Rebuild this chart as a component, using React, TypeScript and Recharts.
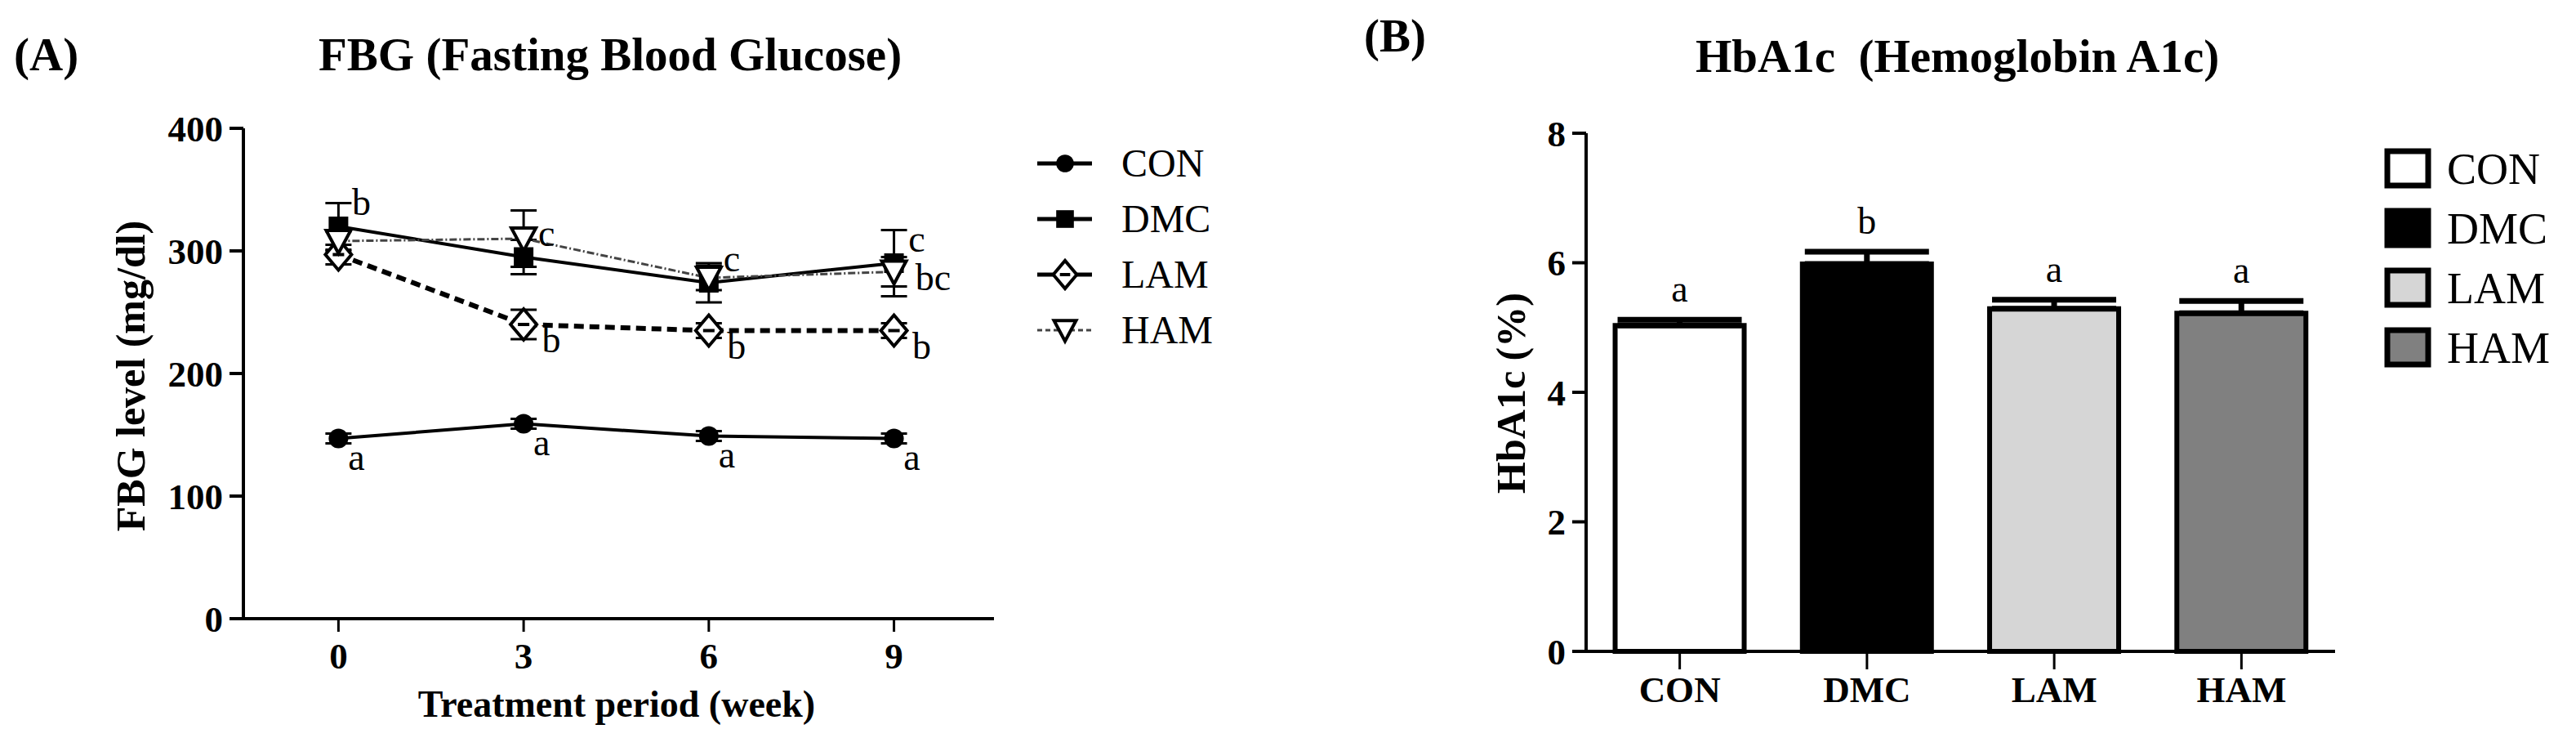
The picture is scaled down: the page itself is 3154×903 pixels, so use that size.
import React from 'react';
import { LineChart, Line, XAxis, YAxis, ErrorBar, Legend, LabelList, BarChart, Bar, Cell } from 'recharts';

// panel A: fasting blood glucose over the treatment period
const weeks = [0, 3, 6, 9];
const conValues = [147, 159, 149, 147];
const dmcValues = [320, 295, 274, 290];
const lamValues = [297, 240, 235, 235];
const hamValues = [308, 310, 278, 283];
const conErrors = [4, 4, 4, 4];
const dmcErrors = [19, 14, 16, 27];
const lamErrors = [8, 12, 6, 6];
const hamErrors = [8, 23, 10, 12];
const conLetters = ['a', 'a', 'a', 'a'];
const dmcLetters = ['b', 'c', 'c', 'c'];
const lamLetters = ['', 'b', 'b', 'b'];
const hamLetters = ['', '', '', 'bc'];
const fbgTicks = [0, 100, 200, 300, 400];

// panel B: HbA1c per group
const groups = ['CON', 'DMC', 'LAM', 'HAM'];
const hba1cValues = [5.03, 5.98, 5.29, 5.22];
const hba1cErrors = [0.09, 0.19, 0.14, 0.19];
const hba1cLetters = ['a', 'b', 'a', 'a'];
const hba1cTicks = [0, 2, 4, 6, 8];
const groupFills = ['#ffffff', '#000000', '#d6d6d6', '#808080'];

const SERIF = "'Liberation Serif', 'Times New Roman', serif";

type Shape = 'circle' | 'square' | 'diamond' | 'triangle';

const fbgSeries = [
  { key: 'CON', values: conValues, errors: conErrors, letters: conLetters, shape: 'circle' as Shape, stroke: '#000', width: 4, dash: undefined as string | undefined, dx: 22, dy: 38 },
  { key: 'DMC', values: dmcValues, errors: dmcErrors, letters: dmcLetters, shape: 'square' as Shape, stroke: '#000', width: 4, dash: undefined, dx: 28, dy: -14 },
  { key: 'LAM', values: lamValues, errors: lamErrors, letters: lamLetters, shape: 'diamond' as Shape, stroke: '#000', width: 6, dash: '12 7', dx: 34, dy: 34 },
  { key: 'HAM', values: hamValues, errors: hamErrors, letters: hamLetters, shape: 'triangle' as Shape, stroke: '#444', width: 3, dash: '9 3 2 3', dx: 48, dy: 22 },
];

const fbgData = weeks.map((w, i) => {
  const row: Record<string, any> = { week: w };
  fbgSeries.forEach((s) => {
    row[s.key] = s.values[i];
    row[s.key + 'Err'] = s.errors[i];
    row[s.key + 'Letter'] = s.letters[i];
  });
  return row;
});

const hba1cData = groups.map((g, i) => ({
  group: g,
  value: hba1cValues[i],
  err: [0, hba1cErrors[i]],
  letter: hba1cLetters[i],
}));

function Marker({ shape, cx, cy, scale = 1 }: { shape: Shape; cx: number; cy: number; scale?: number }) {
  const k = scale;
  if (shape === 'circle') return <circle cx={cx} cy={cy} r={12 * k} fill="#000" />;
  if (shape === 'square') return <rect x={cx - 12 * k} y={cy - 12 * k} width={24 * k} height={24 * k} fill="#000" />;
  if (shape === 'diamond')
    return (
      <g>
        <path d={`M${cx},${cy - 19 * k} L${cx + 16 * k},${cy} L${cx},${cy + 19 * k} L${cx - 16 * k},${cy} Z`} fill="#fff" stroke="#000" strokeWidth={4} />
        <line x1={cx - 7 * k} x2={cx + 7 * k} y1={cy} y2={cy} stroke="#000" strokeWidth={4} />
      </g>
    );
  return <path d={`M${cx - 15 * k},${cy - 13 * k} L${cx + 15 * k},${cy - 13 * k} L${cx},${cy + 15 * k} Z`} fill="#fff" stroke="#000" strokeWidth={4} />;
}

function FbgLegend() {
  return (
    <div>
      {fbgSeries.map((s) => (
        <div key={s.key} style={{ display: 'flex', alignItems: 'center', height: 68 }}>
          <svg width={108} height={68}>
            <line x1={5} x2={72} y1={34} y2={34} stroke={s.stroke} strokeWidth={s.key === 'HAM' ? 3 : 5} strokeDasharray={s.key === 'HAM' ? '6 4' : undefined} />
            <Marker shape={s.shape} cx={39} cy={34} scale={0.9} />
          </svg>
          <span style={{ fontFamily: SERIF, fontSize: 48, color: '#000', lineHeight: 1 }}>{s.key}</span>
        </div>
      ))}
    </div>
  );
}

function Hba1cLegend() {
  return (
    <div>
      {groups.map((g, i) => (
        <div key={g} style={{ display: 'flex', alignItems: 'center', height: 73 }}>
          <svg width={78} height={73}>
            <rect x={5} y={15} width={50} height={42} fill={groupFills[i]} stroke="#000" strokeWidth={7} />
          </svg>
          <span style={{ fontFamily: SERIF, fontSize: 54, color: '#000', lineHeight: 1 }}>{g}</span>
        </div>
      ))}
    </div>
  );
}

const tickFont = { fontFamily: SERIF, fontSize: 45, fontWeight: 'bold', fill: '#000' };
const axisStroke = { stroke: '#000', strokeWidth: 4 };

function pointOf(p: any) {
  const x = p.viewBox && p.viewBox.x != null ? p.viewBox.x : p.x;
  const y = p.viewBox && p.viewBox.y != null ? p.viewBox.y : p.y;
  return { x, y };
}

export default function App() {
  return (
    <div style={{ position: 'absolute', left: 0, top: 0, width: 3154, height: 903, background: '#fff' }}>
      <div style={{ position: 'absolute', left: 0, top: 0 }}>
        <LineChart width={1600} height={903} data={fbgData} margin={{ top: 157, right: 383, bottom: 0, left: 178 }}>
          <XAxis
            dataKey="week"
            type="number"
            domain={[-1.54, 10.62]}
            ticks={weeks}
            height={146}
            tick={tickFont}
            tickSize={16}
            tickMargin={13}
            axisLine={axisStroke}
            tickLine={{ stroke: '#000', strokeWidth: 3 }}
            allowDataOverflow
          />
          <YAxis
            type="number"
            domain={[0, 400]}
            ticks={fbgTicks}
            width={120}
            tick={tickFont}
            tickSize={17}
            tickMargin={8}
            axisLine={axisStroke}
            tickLine={axisStroke}
          />
          {fbgSeries.map((s) => (
            <Line
              key={s.key}
              dataKey={s.key}
              name={s.key}
              type="linear"
              stroke={s.stroke}
              strokeWidth={s.width}
              strokeDasharray={s.dash}
              isAnimationActive={false}
              dot={(p: any) => <Marker key={`${s.key}-${p.index}`} shape={s.shape} cx={p.cx} cy={p.cy} />}
              activeDot={false}
            >
              <ErrorBar dataKey={s.key + 'Err'} width={16} strokeWidth={3} stroke="#000" direction="y" />
              <LabelList
                dataKey={s.key + 'Letter'}
                content={(p: any) => {
                  const { x, y } = pointOf(p);
                  if (!p.value) return null;
                  return (
                    <text x={x + s.dx} y={y + s.dy} textAnchor="middle" fontFamily={SERIF} fontSize={46} fill="#000">
                      {p.value}
                    </text>
                  );
                }}
              />
            </Line>
          ))}
          <Legend
            layout="vertical"
            align="center"
            verticalAlign="middle"
            wrapperStyle={{ left: 1265, top: 166, width: 320 }}
            content={() => <FbgLegend />}
          />
        </LineChart>
      </div>

      <div style={{ position: 'absolute', left: 1600, top: 0 }}>
        <BarChart width={1554} height={903} data={hba1cData} margin={{ top: 163, right: 295, bottom: 0, left: 222 }} barCategoryGap="15.5%">
          <XAxis
            dataKey="group"
            height={106}
            tick={tickFont}
            tickSize={22}
            tickMargin={8}
            axisLine={axisStroke}
            tickLine={{ stroke: '#000', strokeWidth: 3 }}
          />
          <YAxis
            type="number"
            domain={[0, 8]}
            ticks={hba1cTicks}
            width={120}
            tick={tickFont}
            tickSize={17}
            tickMargin={8}
            axisLine={axisStroke}
            tickLine={axisStroke}
          />
          <Bar dataKey="value" stroke="#000" strokeWidth={6} isAnimationActive={false}>
            {hba1cData.map((d, i) => (
              <Cell key={d.group} fill={groupFills[i]} />
            ))}
            <ErrorBar dataKey="err" width={76} strokeWidth={7} stroke="#000" direction="y" />
            <LabelList
              dataKey="letter"
              content={(p: any) => {
                const vb = p.viewBox || p;
                const i = p.index;
                const perUnit = vb.height / hba1cValues[i];
                const errTop = vb.y - hba1cErrors[i] * perUnit;
                return (
                  <text x={vb.x + vb.width / 2} y={errTop - 22} textAnchor="middle" fontFamily={SERIF} fontSize={46} fill="#000">
                    {p.value}
                  </text>
                );
              }}
            />
          </Bar>
          <Legend
            layout="vertical"
            align="center"
            verticalAlign="middle"
            wrapperStyle={{ left: 1318, top: 170, width: 230 }}
            content={() => <Hba1cLegend />}
          />
        </BarChart>
      </div>

      <svg width={3154} height={903} style={{ position: 'absolute', left: 0, top: 0, pointerEvents: 'none' }}>
        <g fontFamily={SERIF} fontWeight="bold" fill="#000">
          <text x={17} y={86} fontSize={57}>(A)</text>
          <text x={390} y={86} fontSize={57}>FBG (Fasting Blood Glucose)</text>
          <text x={177} y={460} fontSize={50} textAnchor="middle" transform="rotate(-90 177 460)">FBG level (mg/dl)</text>
          <text x={755} y={877} fontSize={46} textAnchor="middle">Treatment period (week)</text>
          <text x={1670} y={63} fontSize={57}>(B)</text>
          <text x={2076} y={88} fontSize={57} style={{ whiteSpace: 'pre' }}>HbA1c  (Hemoglobin A1c)</text>
          <text x={1867} y={481} fontSize={50} textAnchor="middle" transform="rotate(-90 1867 481)">HbA1c (%)</text>
        </g>
      </svg>
    </div>
  );
}
